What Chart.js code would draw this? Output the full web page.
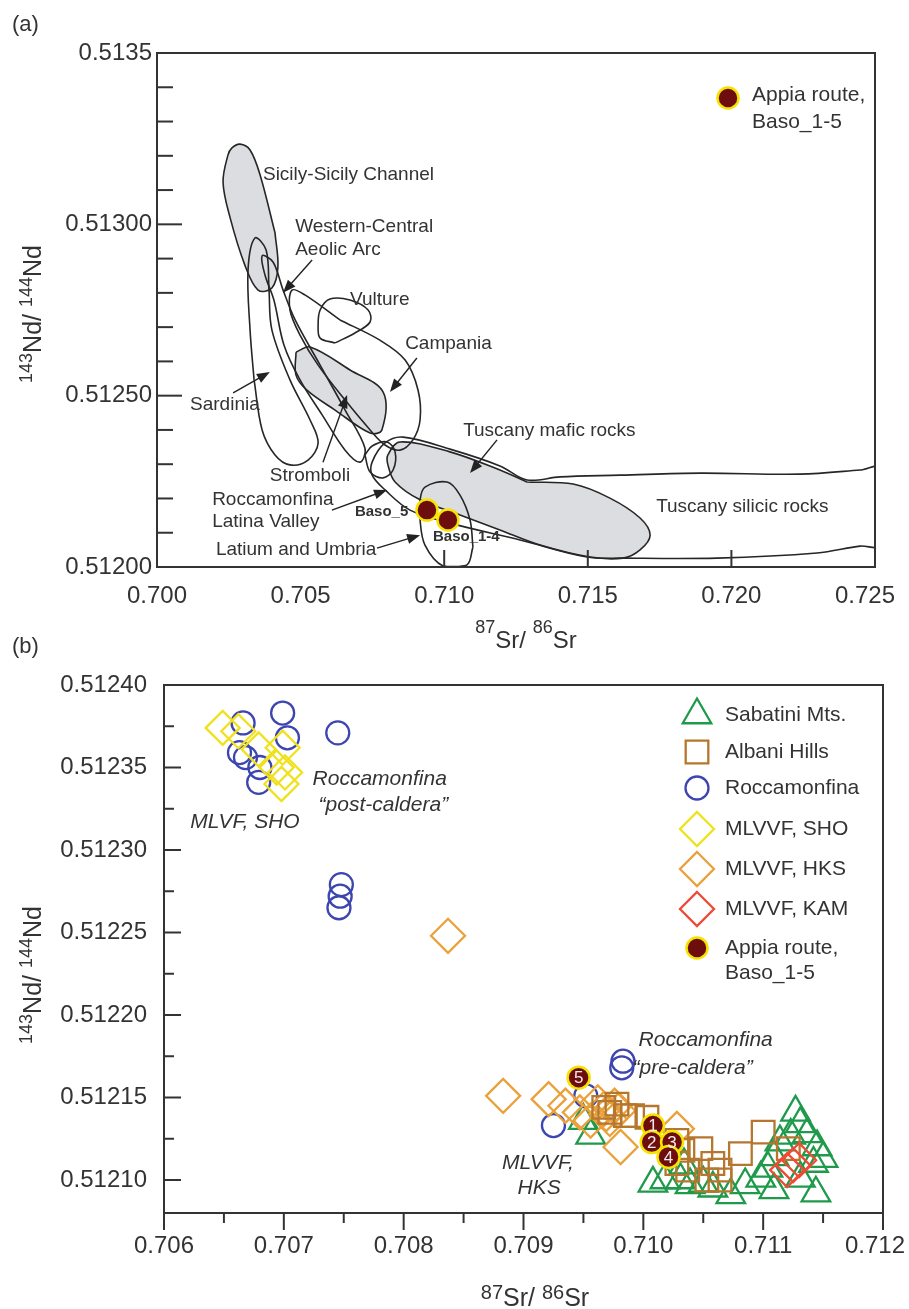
<!DOCTYPE html>
<html>
<head>
<meta charset="utf-8">
<script src="https://cdn.jsdelivr.net/npm/chart.js@4.4.1/dist/chart.umd.min.js"></script>
<style>
  body { margin: 0; background: #fff; width: 909px; height: 1309px; position: relative; overflow: hidden; }
  canvas { position: absolute; left: 0; }
  #chartA { top: 0; }
  #chartB { top: 625px; }
</style>
</head>
<body>
<canvas id="chartA" width="909" height="660"></canvas>
<canvas id="chartB" width="909" height="684"></canvas>
<script>
// ---------- panel (a): fields in 87Sr/86Sr vs 143Nd/144Nd ----------
const sicily = [[0.70289,0.513234],[0.70324,0.513217],[0.70359,0.513144],[0.70411,0.512975],[0.70421,0.512875],[0.70400,0.512814],[0.70352,0.512808],[0.70306,0.512881],[0.70254,0.513021],[0.70230,0.513123],[0.70247,0.513202],[0.70261,0.513223],[0.70289,0.513234]];
const sardinia = [[0.70341,0.51296],[0.70380,0.512925],[0.70390,0.512808],[0.70400,0.512692],[0.70463,0.512546],[0.70533,0.512429],[0.70561,0.512362],[0.70526,0.512312],[0.70463,0.512298],[0.70411,0.512327],[0.70366,0.5124],[0.70338,0.512546],[0.70324,0.512692],[0.70317,0.512867],[0.70341,0.51296]];
const aeolic = [[0.70366,0.512908],[0.70404,0.51289],[0.70439,0.512808],[0.70481,0.512721],[0.70568,0.512589],[0.70655,0.512458],[0.70724,0.512347],[0.70707,0.512306],[0.70655,0.512341],[0.70575,0.512444],[0.70498,0.512546],[0.70442,0.512648],[0.70407,0.512779],[0.70376,0.512852],[0.70366,0.512908]];
const campania = [[0.7047,0.512808],[0.70515,0.512794],[0.70637,0.512721],[0.70776,0.512662],[0.70864,0.512604],[0.70909,0.512516],[0.70916,0.512429],[0.70891,0.512371],[0.70846,0.512341],[0.70794,0.512356],[0.70742,0.5124],[0.70655,0.512487],[0.70561,0.512589],[0.70498,0.512677],[0.70463,0.51275],[0.7047,0.512808]];
const vulture = [[0.70568,0.51275],[0.70602,0.512782],[0.70672,0.512779],[0.70735,0.51275],[0.70742,0.512715],[0.70689,0.512683],[0.7062,0.512654],[0.70568,0.512668],[0.70561,0.512706],[0.70568,0.51275]];
const stromboli = [[0.70484,0.512627],[0.70533,0.512642],[0.70672,0.512575],[0.70787,0.512511],[0.70783,0.5124],[0.70742,0.512391],[0.7062,0.512458],[0.70522,0.512516],[0.70484,0.51256],[0.70484,0.512627]];
const roccaLatina = [[0.70724,0.512327],[0.70749,0.512353],[0.70801,0.512365],[0.70829,0.512336],[0.70822,0.512283],[0.70787,0.51226],[0.70742,0.512277],[0.70724,0.512327]];
const latium = [[0.70933,0.512233],[0.7101,0.512248],[0.71055,0.51221],[0.7109,0.512137],[0.711,0.512058],[0.71079,0.512006],[0.70996,0.512003],[0.70933,0.512064],[0.70916,0.512137],[0.70916,0.512196],[0.70933,0.512233]];
const tuscanySilicic = [[0.70749,0.512306],[0.70794,0.512362],[0.70857,0.512379],[0.7102,0.512344],[0.71194,0.512295],[0.71288,0.512254],[0.71403,0.512263],[0.71612,0.512268],[0.71891,0.512274],[0.72239,0.512271],[0.72448,0.512283],[0.72518,0.512289],[0.72518,0.512064],[0.72448,0.512061],[0.72298,0.512041],[0.7195,0.512026],[0.71623,0.512026],[0.71497,0.512029],[0.71264,0.512079],[0.7102,0.512128],[0.70881,0.512166],[0.70794,0.512225],[0.70749,0.512268],[0.70749,0.512306]];
const tuscanyMafic = [[0.70804,0.512327],[0.70846,0.512365],[0.7102,0.512336],[0.71194,0.512283],[0.71288,0.512248],[0.71449,0.512242],[0.71577,0.512201],[0.71682,0.512143],[0.71717,0.512093],[0.71682,0.51205],[0.71623,0.512026],[0.71508,0.512029],[0.71334,0.512064],[0.71194,0.512108],[0.71055,0.512152],[0.70916,0.512196],[0.70829,0.512248],[0.70804,0.512298],[0.70804,0.512327]];
const basoA = [[0.70940,0.512166],[0.71013,0.512137]];

const xTicksA = [0.700, 0.705, 0.710, 0.715, 0.720, 0.725];
const xInnerTicksA = [0.710, 0.715, 0.720];
const yTicksA = [0.5120, 0.5125, 0.5130, 0.5135];
const yTickLabelsA = ['0.51200', '0.51250', '0.51300', '0.5135'];

// labels and arrows of panel (a), placed in data units
const fieldLabelsA = [
  ['Sicily-Sicily Channel', 0.70369, 0.513144],
  ['Western-Central', 0.70481, 0.512992],
  ['Aeolic Arc', 0.70481, 0.512925],
  ['Vulture', 0.70672, 0.512779],
  ['Campania', 0.70864, 0.512651],
  ['Sardinia', 0.70115, 0.512473],
  ['Stromboli', 0.70393, 0.512266],
  ['Roccamonfina', 0.70192, 0.512196],
  ['Latina Valley', 0.70192, 0.512131],
  ['Latium and Umbria', 0.70205, 0.512050],
  ['Tuscany mafic rocks', 0.71066, 0.512397],
  ['Tuscany silicic rocks', 0.71738, 0.512175]
];
const basoLabelsA = [['Baso_5', 0.70689, 0.512160], ['Baso_1-4', 0.70961, 0.512088]];
const arrowsA = [
  [0.70540, 0.512896, 0.70439, 0.512800],
  [0.70265, 0.512508, 0.70393, 0.512569],
  [0.70578, 0.512306, 0.70662, 0.512502],
  [0.70905, 0.512610, 0.70811, 0.512511],
  [0.70609, 0.512166, 0.70801, 0.512225],
  [0.70766, 0.512055, 0.70916, 0.512093],
  [0.71184, 0.512371, 0.71090, 0.512274]
];

// ---------- panel (b): samples ----------
const sabatini = [[0.70950,0.512136],[0.70956,0.512127],[0.71008,0.512098],[0.71018,0.512100],[0.71031,0.512100],[0.71034,0.512109],[0.71039,0.512097],[0.71050,0.512098],[0.71058,0.512095],[0.71073,0.512091],[0.71085,0.512097],[0.71098,0.512101],[0.71104,0.512107],[0.71109,0.512114],[0.71114,0.512123],[0.71123,0.512127],[0.71127,0.512141],[0.71131,0.512134],[0.71137,0.512128],[0.71145,0.512120],[0.71150,0.512113],[0.71142,0.512110],[0.71131,0.512101],[0.71109,0.512094],[0.71144,0.512092]];
const albani = [[0.70967,0.512144],[0.70972,0.512141],[0.70978,0.512146],[0.70985,0.512139],[0.70991,0.512139],[0.71003,0.512138],[0.71028,0.512124],[0.71033,0.512118],[0.71048,0.512119],[0.71028,0.512110],[0.71037,0.512106],[0.71058,0.512110],[0.71064,0.512106],[0.71053,0.512100],[0.71064,0.512100],[0.71081,0.512116],[0.71100,0.512129],[0.71121,0.512119]];
const roccamonfina = [[0.70666,0.512377],[0.70699,0.512383],[0.70703,0.512368],[0.70663,0.512359],[0.70668,0.512356],[0.70680,0.512350],[0.70679,0.512341],[0.70745,0.512371],[0.70748,0.512279],[0.70747,0.512272],[0.70746,0.512265],[0.70983,0.512172],[0.70982,0.512168],[0.70952,0.512151],[0.70925,0.512133]];
const mlvvfSho = [[0.70649,0.512374],[0.70662,0.512372],[0.70679,0.512361],[0.70699,0.512362],[0.70694,0.512350],[0.70701,0.512347],[0.70698,0.512340]];
const mlvvfHks = [[0.70837,0.512248],[0.70883,0.512151],[0.70921,0.512149],[0.70935,0.512145],[0.70947,0.512141],[0.70962,0.512147],[0.70967,0.512143],[0.70969,0.512140],[0.70972,0.512137],[0.70976,0.512145],[0.70979,0.512142],[0.70981,0.512120],[0.71028,0.512131],[0.70956,0.512136]];
const mlvvfKam = [[0.71120,0.512106],[0.71125,0.512109],[0.71130,0.512112]];
const appiaB = [[0.70946,0.512162],[0.71008,0.512133],[0.71007,0.512123],[0.71024,0.512123],[0.71021,0.512114]];
const appiaNumbers = ['5', '1', '2', '3', '4'];

const xTicksB = [0.706, 0.707, 0.708, 0.709, 0.710, 0.711, 0.712];
const yTicksB = [0.51210, 0.51215, 0.51220, 0.51225, 0.51230, 0.51235, 0.51240];

const notesB = [
  ['Roccamonfina', 0.70724, 0.512343],
  ['\u201Cpost-caldera\u201D', 0.70729, 0.512327],
  ['MLVF, SHO', 0.70622, 0.512317],
  ['Roccamonfina', 0.70996, 0.512185],
  ['\u201Cpre-caldera\u201D', 0.70991, 0.512168],
  ['MLVVF,', 0.70882, 0.512110],
  ['HKS', 0.70895, 0.512095]
];

// ---------- styles ----------
const FONT = "'Liberation Sans', Arial, Helvetica, sans-serif";
const INK = '#333333';
const GREEN = '#1f9a4b', BROWN = '#b5772e', BLUE = '#3d45b0', YELLOW = '#efe21c',
      ORANGE = '#eba13a', RED = '#ef4a35', MAROON = '#6e0d0d', RIM = '#f4e400';

const pts = arr => arr.map(([x, y]) => ({ x, y }));

// start a closed outline at another vertex so the seam falls on a flat stretch
function loopFrom(arr, k) {
  const open = arr.slice(0, -1);
  const r = open.slice(k).concat(open.slice(0, k));
  return r.concat([r[0]]);
}

function richText(ctx, parts, x, y) {
  // parts: [text, size, rise]; x is the centre, y the main baseline
  let total = 0;
  parts.forEach(p => { ctx.font = p[1] + 'px ' + FONT; total += ctx.measureText(p[0]).width; });
  let cx = x - total / 2;
  ctx.textAlign = 'left';
  ctx.textBaseline = 'alphabetic';
  parts.forEach(p => {
    ctx.font = p[1] + 'px ' + FONT;
    ctx.fillText(p[0], cx, y - p[2]);
    cx += ctx.measureText(p[0]).width;
  });
}

function arrow(ctx, x1, y1, x2, y2) {
  const a = Math.atan2(y2 - y1, x2 - x1), L = 13, W = 5;
  ctx.beginPath();
  ctx.moveTo(x1, y1);
  ctx.lineTo(x2 - Math.cos(a) * L * 0.8, y2 - Math.sin(a) * L * 0.8);
  ctx.stroke();
  ctx.beginPath();
  ctx.moveTo(x2, y2);
  ctx.lineTo(x2 - L * Math.cos(a) + W * Math.sin(a), y2 - L * Math.sin(a) - W * Math.cos(a));
  ctx.lineTo(x2 - L * Math.cos(a) - W * Math.sin(a), y2 - L * Math.sin(a) + W * Math.cos(a));
  ctx.closePath();
  ctx.fill();
}

function marker(ctx, style, r, x, y) {
  ctx.beginPath();
  if (style === 'circle') ctx.arc(x, y, r, 0, Math.PI * 2);
  else if (style === 'triangle') {
    ctx.moveTo(x, y - r); ctx.lineTo(x + r * 0.866, y + r / 2); ctx.lineTo(x - r * 0.866, y + r / 2); ctx.closePath();
  } else if (style === 'rect') {
    const s = r * Math.SQRT1_2; ctx.rect(x - s, y - s, 2 * s, 2 * s);
  } else {
    ctx.moveTo(x, y - r); ctx.lineTo(x + r, y); ctx.lineTo(x, y + r); ctx.lineTo(x - r, y); ctx.closePath();
  }
}

function hline(ctx, x1, y, x2) { ctx.beginPath(); ctx.moveTo(x1, y); ctx.lineTo(x2, y); ctx.stroke(); }
function vline(ctx, x, y1, y2) { ctx.beginPath(); ctx.moveTo(x, y1); ctx.lineTo(x, y2); ctx.stroke(); }

// ---------- chart (a) ----------
function field(data, filled, start) {
  return {
    data: pts(loopFrom(data, start || 0)), showLine: true, pointRadius: 0, borderColor: '#262626', borderWidth: 1.6,
    backgroundColor: filled ? '#dcdde0' : 'rgba(0,0,0,0)', fill: filled ? 'shape' : false,
    tension: 0.35, order: filled ? 3 : 2
  };
}

const panelA = {
  id: 'panelA',
  afterDraw(chart) {
    const { ctx, chartArea: a, scales: { x, y } } = chart;
    ctx.save();
    ctx.strokeStyle = INK;
    ctx.fillStyle = INK;
    ctx.lineWidth = 2;
    ctx.strokeRect(a.left, a.top, a.right - a.left, a.bottom - a.top);
    for (let k = 1; k < 15; k++) {
      const py = y.getPixelForValue(0.5120 + k * 0.0001);
      hline(ctx, a.left, py, a.left + (k % 5 === 0 ? 25 : 16));
    }
    xInnerTicksA.forEach(v => { const px = x.getPixelForValue(v); vline(ctx, px, a.bottom, a.bottom - 17); });

    ctx.lineWidth = 1.4;
    ctx.strokeStyle = '#222';
    ctx.fillStyle = '#222';
    arrowsA.forEach(([x1, y1, x2, y2]) =>
      arrow(ctx, x.getPixelForValue(x1), y.getPixelForValue(y1), x.getPixelForValue(x2), y.getPixelForValue(y2)));

    ctx.fillStyle = INK;
    ctx.textAlign = 'left';
    ctx.textBaseline = 'middle';
    ctx.font = '19px ' + FONT;
    fieldLabelsA.forEach(([t, vx, vy]) => ctx.fillText(t, x.getPixelForValue(vx), y.getPixelForValue(vy)));
    ctx.font = 'bold 15px ' + FONT;
    basoLabelsA.forEach(([t, vx, vy]) => ctx.fillText(t, x.getPixelForValue(vx), y.getPixelForValue(vy)));

    // last x tick label sits a little inside the frame
    ctx.font = '24px ' + FONT;
    ctx.textAlign = 'center';
    ctx.fillText(xTicksA[xTicksA.length - 1].toFixed(3), a.right - 10, a.bottom + 29);

    // legend
    ctx.textAlign = 'left';
    ctx.fillStyle = MAROON; ctx.strokeStyle = RIM; ctx.lineWidth = 2.5;
    marker(ctx, 'circle', 10.5, a.right - 147, a.top + 45);
    ctx.fill(); ctx.stroke();
    ctx.fillStyle = INK;
    ctx.font = '21px ' + FONT;
    ctx.fillText('Appia route,', a.right - 123, a.top + 42);
    ctx.fillText('Baso_1-5', a.right - 123, a.top + 69);

    // panel tag and axis titles
    ctx.font = '22px ' + FONT;
    ctx.textBaseline = 'alphabetic';
    ctx.fillText('(a)', 12, 31);
    richText(ctx, [['87', 18, 15], ['Sr/ ', 24, 0], ['86', 18, 15], ['Sr', 24, 0]], 526, 648);
    ctx.translate(41, 314);
    ctx.rotate(-Math.PI / 2);
    richText(ctx, [['143', 18, 9], ['Nd/ ', 25, 0], ['144', 18, 9], ['Nd', 25, 0]], 0, 0);
    ctx.restore();
  }
};

new Chart(document.getElementById('chartA'), {
  type: 'line',
  data: {
    datasets: [
      { data: pts(basoA), showLine: false, pointStyle: 'circle', pointRadius: 10.5,
        pointBackgroundColor: MAROON, pointBorderColor: RIM, pointBorderWidth: 2.5, order: 0 },
      field(sardinia, false, 11), field(aeolic, false, 4), field(campania, false, 2), field(vulture, false, 6),
      field(roccaLatina, false, 0), field(latium, false, 4), field(tuscanySilicic, false, 7),
      field(sicily, true, 3), field(stromboli, true, 0), field(tuscanyMafic, true, 4)
    ]
  },
  options: {
    responsive: false, animation: false, devicePixelRatio: 1,
    layout: { padding: { left: 0, top: 53, right: 34, bottom: 0 } },
    plugins: { legend: { display: false }, tooltip: { enabled: false } },
    scales: {
      x: {
        type: 'linear', min: 0.700, max: 0.725,
        grid: { display: false, drawTicks: false }, border: { display: false },
        afterBuildTicks: s => { s.ticks = xTicksA.map(v => ({ value: v })); },
        ticks: { padding: 15, color: INK, font: { family: FONT, size: 24 }, maxRotation: 0, autoSkip: false,
                 callback: (v, i) => i === xTicksA.length - 1 ? '' : v.toFixed(3) },
        afterFit: s => { s.height = 93; s.paddingLeft = 0; s.paddingRight = 0; }
      },
      y: {
        type: 'linear', min: 0.5120, max: 0.5135,
        grid: { display: false, drawTicks: false }, border: { display: false },
        afterBuildTicks: s => { s.ticks = yTicksA.map(v => ({ value: v })); },
        ticks: { padding: 5, color: INK, font: { family: FONT, size: 24 }, autoSkip: false,
                 callback: (v, i) => yTickLabelsA[i] },
        afterFit: s => { s.width = 157; s.paddingTop = 0; s.paddingBottom = 0; }
      }
    }
  },
  plugins: [panelA]
});

// ---------- chart (b) ----------
const seriesB = [
  { label: 'Sabatini Mts.', data: sabatini, style: 'triangle', r: 16.5, color: GREEN, order: 6 },
  { label: 'Albani Hills', data: albani, style: 'rect', r: 16, color: BROWN, order: 3 },
  { label: 'Roccamonfina', data: roccamonfina, style: 'circle', r: 11.5, color: BLUE, order: 5 },
  { label: 'MLVVF, SHO', data: mlvvfSho, style: 'rectRot', r: 17, color: YELLOW, order: 4 },
  { label: 'MLVVF, HKS', data: mlvvfHks, style: 'rectRot', r: 17, color: ORANGE, order: 4 },
  { label: 'MLVVF, KAM', data: mlvvfKam, style: 'rectRot', r: 17, color: RED, order: 1 }
];

const panelB = {
  id: 'panelB',
  afterDraw(chart) {
    const { ctx, chartArea: a, scales: { x, y } } = chart;
    ctx.save();
    ctx.strokeStyle = INK;
    ctx.lineWidth = 2;
    ctx.strokeRect(a.left, a.top, a.right - a.left, a.bottom - a.top);
    yTicksB.forEach((v, i) => {
      hline(ctx, a.left, y.getPixelForValue(v), a.left + 17);
      if (i < yTicksB.length - 1) hline(ctx, a.left, y.getPixelForValue((v + yTicksB[i + 1]) / 2), a.left + 10);
    });
    xTicksB.forEach((v, i) => {
      vline(ctx, x.getPixelForValue(v), a.bottom, a.bottom + 17);
      if (i < xTicksB.length - 1) vline(ctx, x.getPixelForValue((v + xTicksB[i + 1]) / 2), a.bottom, a.bottom + 10);
    });

    // numbers on the Appia route samples
    const meta = chart.getDatasetMeta(0);
    ctx.fillStyle = '#f4eaea';
    ctx.font = '17px ' + FONT;
    ctx.textAlign = 'center';
    ctx.textBaseline = 'middle';
    meta.data.forEach((p, i) => ctx.fillText(appiaNumbers[i], p.x, p.y + 1));

    // last x tick label, kept inside the page
    ctx.fillStyle = INK;
    ctx.font = '24px ' + FONT;
    ctx.fillText(xTicksB[xTicksB.length - 1].toFixed(3), a.right - 8, a.bottom + 33);

    // notes
    ctx.textAlign = 'left';
    ctx.font = 'italic 21px ' + FONT;
    notesB.forEach(([t, vx, vy]) => ctx.fillText(t, x.getPixelForValue(vx), y.getPixelForValue(vy)));

    // legend
    const ix = a.right - 186, tx = a.right - 158;
    const rows = [30, 67, 103, 144, 184, 224];
    ctx.font = '21px ' + FONT;
    seriesB.forEach((s, i) => {
      ctx.strokeStyle = s.color;
      ctx.lineWidth = 2.3;
      marker(ctx, s.style, s.r, ix, a.top + rows[i]);
      ctx.stroke();
      ctx.fillStyle = INK;
      ctx.fillText(s.label, tx, a.top + rows[i]);
    });
    ctx.fillStyle = MAROON; ctx.strokeStyle = RIM; ctx.lineWidth = 2.5;
    marker(ctx, 'circle', 10.5, ix, a.top + 263);
    ctx.fill(); ctx.stroke();
    ctx.fillStyle = INK;
    ctx.fillText('Appia route,', tx, a.top + 263);
    ctx.fillText('Baso_1-5', tx, a.top + 288);

    // panel tag and axis titles
    ctx.font = '22px ' + FONT;
    ctx.textBaseline = 'alphabetic';
    ctx.fillText('(b)', 12, 28);
    richText(ctx, [['87', 20, 7], ['Sr/ ', 25, 0], ['86', 20, 7], ['Sr', 25, 0]], 535, 681);
    ctx.translate(41, 350);
    ctx.rotate(-Math.PI / 2);
    richText(ctx, [['143', 18, 9], ['Nd/ ', 25, 0], ['144', 18, 9], ['Nd', 25, 0]], 0, 0);
    ctx.restore();
  }
};

const datasetsB = [
  { data: pts(appiaB), showLine: false, pointStyle: 'circle', pointRadius: 11,
    pointBackgroundColor: MAROON, pointBorderColor: RIM, pointBorderWidth: 2.5, order: 0 }
].concat(seriesB.map(s => ({
  data: pts(s.data), showLine: false, pointStyle: s.style, pointRadius: s.r,
  pointBorderColor: s.color, pointBackgroundColor: 'rgba(255,255,255,0)', pointBorderWidth: 2.3, order: s.order
})));

new Chart(document.getElementById('chartB'), {
  type: 'line',
  data: { datasets: datasetsB },
  options: {
    responsive: false, animation: false, devicePixelRatio: 1,
    layout: { padding: { left: 0, top: 60, right: 26, bottom: 0 } },
    plugins: { legend: { display: false }, tooltip: { enabled: false } },
    scales: {
      x: {
        type: 'linear', min: 0.706, max: 0.712,
        grid: { display: false, drawTicks: false }, border: { display: false },
        afterBuildTicks: s => { s.ticks = xTicksB.map(v => ({ value: v })); },
        ticks: { padding: 19, color: INK, font: { family: FONT, size: 24 }, maxRotation: 0, autoSkip: false,
                 callback: (v, i) => i === xTicksB.length - 1 ? '' : v.toFixed(3) },
        afterFit: s => { s.height = 96; s.paddingLeft = 0; s.paddingRight = 0; }
      },
      y: {
        type: 'linear', min: 0.51208, max: 0.51240,
        grid: { display: false, drawTicks: false }, border: { display: false },
        afterBuildTicks: s => { s.ticks = yTicksB.map(v => ({ value: v })); },
        ticks: { padding: 17, color: INK, font: { family: FONT, size: 24 }, autoSkip: false,
                 callback: v => v.toFixed(5) },
        afterFit: s => { s.width = 164; s.paddingTop = 0; s.paddingBottom = 0; }
      }
    }
  },
  plugins: [panelB]
});
</script>
</body>
</html>
